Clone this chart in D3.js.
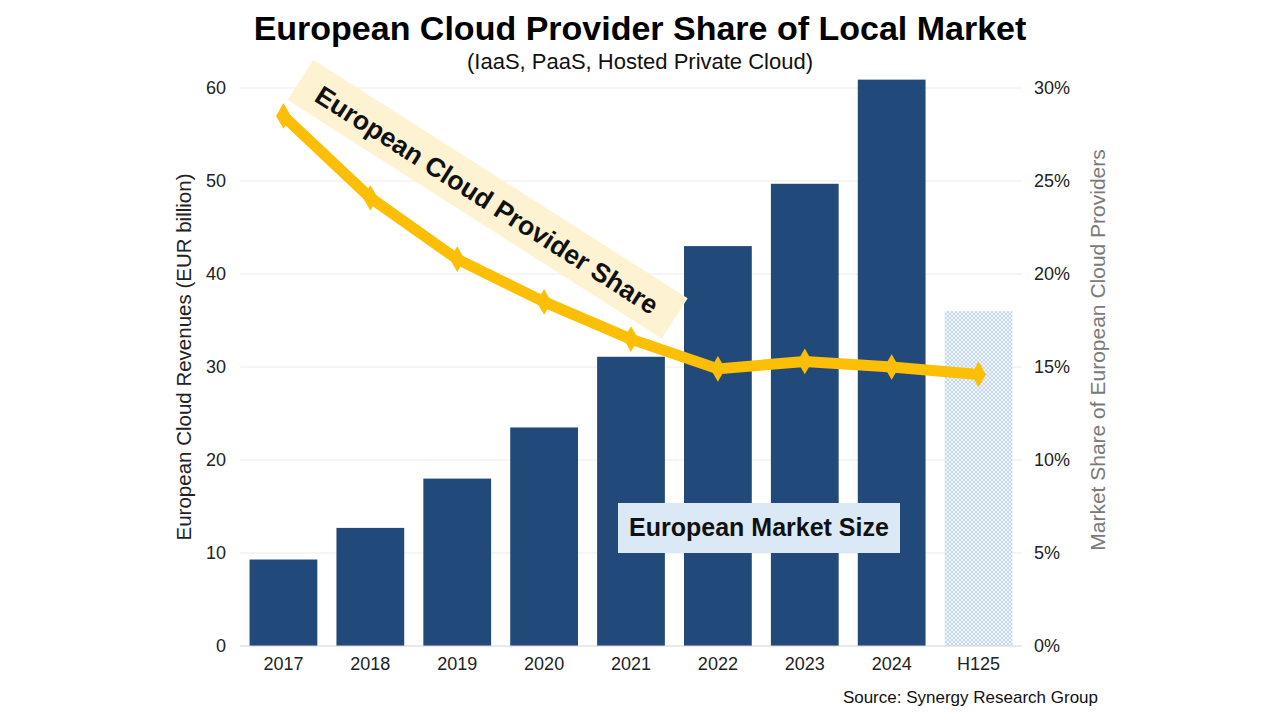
<!DOCTYPE html>
<html>
<head>
<meta charset="utf-8">
<script src="https://cdn.jsdelivr.net/npm/d3@7"></script>
<style>
  body { margin: 0; background: #fff; }
  svg { font-family: "Liberation Sans", Arial, sans-serif; }
</style>
</head>
<body>
<div class="chart"></div>
<script>
// data
let categories = ["2017", "2018", "2019", "2020", "2021", "2022", "2023", "2024", "H125"];
let revenues = [9.3, 12.7, 18.0, 23.5, 31.1, 43.0, 49.7, 60.9, 36.0];
let shares = [28.5, 24.1, 20.8, 18.5, 16.5, 14.9, 15.3, 15.0, 14.6];
let leftTicks = [0, 10, 20, 30, 40, 50, 60];
let rightTicks = [0, 5, 10, 15, 20, 25, 30];

let W = 1280, H = 720;
let svg = d3.select(".chart").append("svg")
    .attr("width", W)
    .attr("height", H);

// hatch for the half-year bar
let defs = svg.append("defs");
let pat = defs.append("pattern")
    .attr("id", "hatch")
    .attr("width", 4)
    .attr("height", 4)
    .attr("patternUnits", "userSpaceOnUse");
pat.append("rect").attr("width", 4).attr("height", 4).attr("fill", "#f0f5fb");
pat.append("path").attr("d", "M0,0 L4,4 M4,0 L0,4")
    .attr("stroke", "#b9cfea").attr("stroke-width", 0.8);

let x = d3.scaleBand().domain(categories).range([240, 1022]).paddingInner(0.22).paddingOuter(0.11);
let y = d3.scaleLinear().domain([0, 60]).range([646, 88]);
let y2 = d3.scaleLinear().domain([0, 30]).range([646, 88]);

// gridlines
svg.append("g").selectAll("line").data(leftTicks.slice(1)).enter().append("line")
    .attr("x1", 240).attr("x2", 1022)
    .attr("y1", d => y(d)).attr("y2", d => y(d))
    .attr("stroke", "#ebebeb").attr("stroke-width", 1);

// bars
svg.append("g").selectAll("rect").data(revenues).enter().append("rect")
    .attr("x", (d, i) => x(categories[i]))
    .attr("y", d => y(d))
    .attr("width", x.bandwidth())
    .attr("height", d => y(0) - y(d))
    .attr("fill", (d, i) => categories[i] === "H125" ? "url(#hatch)" : "#214a7b");

// baseline
svg.append("line")
    .attr("x1", 240).attr("x2", 1022)
    .attr("y1", y(0)).attr("y2", y(0))
    .attr("stroke", "#d4d4d4").attr("stroke-width", 1.2);

// left axis
let la = svg.append("g").attr("transform", "translate(226,0)")
    .call(d3.axisLeft(y).tickValues(leftTicks).tickSize(0).tickPadding(0));
la.select(".domain").remove();
la.selectAll("text").attr("font-size", 18).attr("fill", "#222")
    .attr("font-family", "Liberation Sans, Arial, sans-serif");

// right axis
let ra = svg.append("g").attr("transform", "translate(1034,0)")
    .call(d3.axisRight(y2).tickValues(rightTicks).tickFormat(d => d + "%").tickSize(0).tickPadding(0));
ra.select(".domain").remove();
ra.selectAll("text").attr("font-size", 18).attr("fill", "#222")
    .attr("font-family", "Liberation Sans, Arial, sans-serif");

// x axis
let xa = svg.append("g").attr("transform", "translate(0," + (y(0) + 11) + ")")
    .call(d3.axisBottom(x).tickSize(0).tickPadding(0));
xa.select(".domain").remove();
xa.selectAll("text").attr("font-size", 18).attr("fill", "#222")
    .attr("font-family", "Liberation Sans, Arial, sans-serif");

// share line
let line = d3.line()
    .x((d, i) => x(categories[i]) + x.bandwidth() / 2)
    .y(d => y2(d));
svg.append("path").datum(shares)
    .attr("d", line)
    .attr("fill", "none")
    .attr("stroke", "#fcbf05")
    .attr("stroke-width", 11)
    .attr("stroke-linejoin", "round");
svg.append("g").selectAll("path").data(shares).enter().append("path")
    .attr("d", d3.symbol().type(d3.symbolDiamond).size(190))
    .attr("transform", (d, i) => "translate(" + (x(categories[i]) + x.bandwidth() / 2) + "," + y2(d) + ")")
    .attr("fill", "#fcbf05");

// rotated share label
let lab = svg.append("g").attr("transform", "translate(487,200) rotate(32.5)");
lab.append("rect")
    .attr("x", -222).attr("y", -25)
    .attr("width", 444).attr("height", 48)
    .attr("fill", "#fdf2d2");
lab.append("text")
    .attr("text-anchor", "middle").attr("dy", "0.35em")
    .attr("font-size", 26.5).attr("font-weight", "bold").attr("fill", "#111")
    .text("European Cloud Provider Share");

// market size label
svg.append("rect")
    .attr("x", 618).attr("y", 503).attr("width", 282).attr("height", 50)
    .attr("fill", "#dbe9f7");
svg.append("text")
    .attr("x", 759).attr("y", 527).attr("dy", "0.35em")
    .attr("text-anchor", "middle")
    .attr("font-size", 25).attr("font-weight", "bold").attr("fill", "#111")
    .text("European Market Size");

// titles
svg.append("text")
    .attr("x", 640).attr("y", 40)
    .attr("text-anchor", "middle")
    .attr("font-size", 34).attr("font-weight", "bold").attr("fill", "#000")
    .text("European Cloud Provider Share of Local Market");
svg.append("text")
    .attr("x", 640).attr("y", 69)
    .attr("text-anchor", "middle")
    .attr("font-size", 22).attr("fill", "#111")
    .text("(IaaS, PaaS, Hosted Private Cloud)");

// axis titles
svg.append("text")
    .attr("transform", "translate(191,357) rotate(-90)")
    .attr("text-anchor", "middle")
    .attr("font-size", 20.5).attr("fill", "#222")
    .text("European Cloud Revenues (EUR billion)");
svg.append("text")
    .attr("transform", "translate(1105,350) rotate(-90)")
    .attr("text-anchor", "middle")
    .attr("font-size", 21).attr("fill", "#7a7a7a")
    .text("Market Share of European Cloud Providers");

// source
svg.append("text")
    .attr("x", 1098).attr("y", 703)
    .attr("text-anchor", "end")
    .attr("font-size", 17).attr("fill", "#111")
    .text("Source: Synergy Research Group");
</script>
</body>
</html>
